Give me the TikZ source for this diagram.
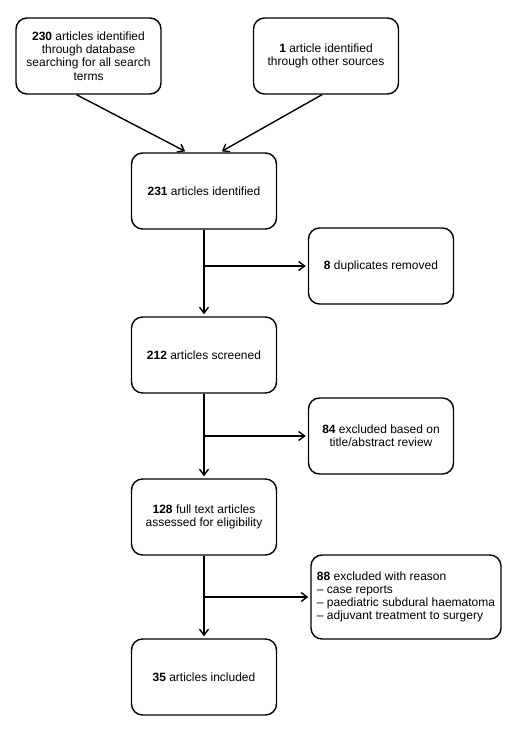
\documentclass[tikz,border=0pt]{standalone}
\usepackage{fontspec}
\setmainfont{Liberation Sans}
\usetikzlibrary{arrows.meta,positioning}
\tikzset{every picture/.style={line width=1.4pt}}
\tikzstyle{box}=[draw,rounded corners=11pt,minimum width=145pt,minimum height=76pt,align=center,inner sep=3pt]
\tikzstyle{wide}=[box,minimum width=190pt,minimum height=84pt,align=left]

\begin{document}
\begin{tikzpicture}[x=1pt,y=-1pt,font=\fontsize{12}{13.2}\selectfont]
\useasboundingbox (0,0) rectangle (518,735);
\node[box] (A) at (88.5,56) {\textbf{230} articles identified\\through database\\searching for all search\\terms};
\node[box] (B) at (326,56) {\textbf{1} article identified\\through other sources};
\node[box] (C) at (204,191) {\textbf{231} articles identified};
\node[box] (D) at (381,266) {\textbf{8} duplicates removed};
\node[box] (E) at (204,355) {\textbf{212} articles screened};
\node[box] (F) at (381,436) {\textbf{84} excluded based on\\title/abstract review};
\node[box] (G) at (204,517) {\textbf{128} full text articles\\assessed for eligibility};
\node[wide] (H) at (406,597) {\textbf{88} excluded with reason\\-- case reports\\-- paediatric subdural haematoma\\-- adjuvant treatment to surgery};
\node[box] (I) at (204,677) {\textbf{35} articles included};
% branch points on the main line
\coordinate (c1) at (C.south |- D.west);
\coordinate (c2) at (E.south |- F.west);
\coordinate (c3) at (G.south |- H.west);
\path[->,>={Straight Barb[length=6pt,width=9pt]},shorten >=2pt]
([xshift=-12pt]A.south) edge ([xshift=-17pt]C.north)
([xshift=-4pt]B.south) edge ([xshift=16pt]C.north)
(C) edge (E)
(E) edge (G)
(G) edge (I)
(c1) edge (D)
(c2) edge (F)
(c3) edge (H);
\end{tikzpicture}
\end{document}
